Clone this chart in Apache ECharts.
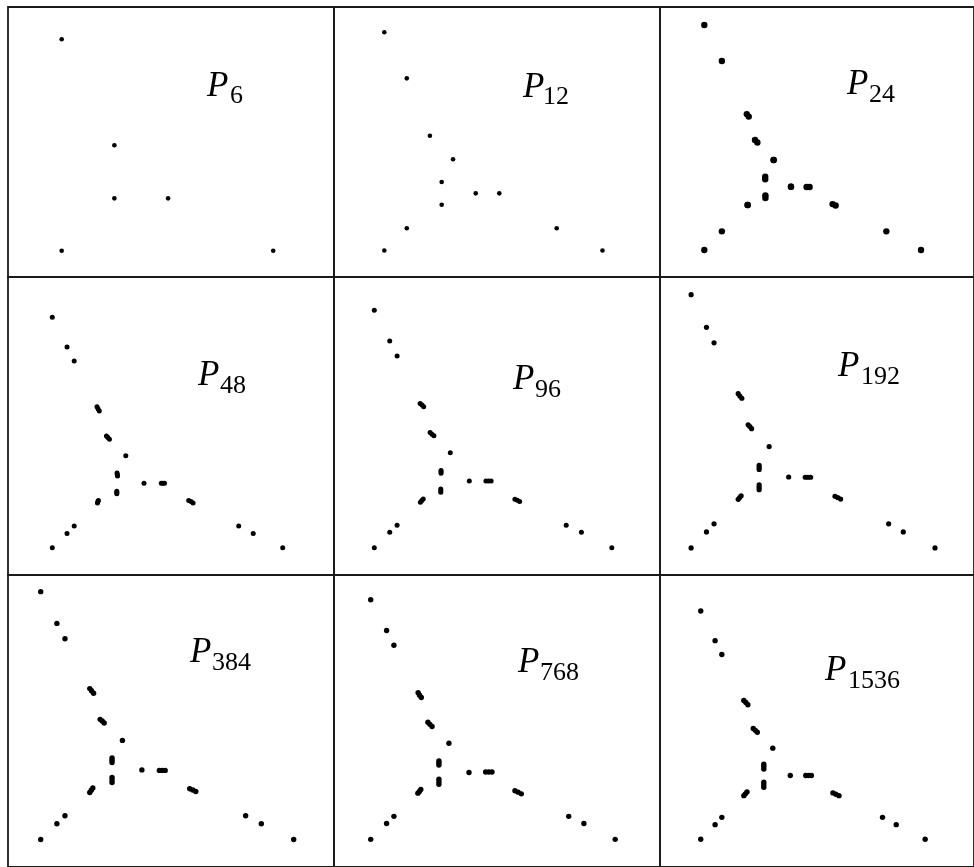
<!DOCTYPE html>
<html>
<head>
<meta charset="utf-8">
<script src="https://cdn.jsdelivr.net/npm/echarts@6/dist/echarts.min.js"></script>
<style>
  html, body { margin: 0; padding: 0; background: #fff; }
  #chart { width: 974px; height: 867px; }
</style>
</head>
<body>
<div id="chart"></div>
<script>
// Point sets P_n, each in unit-square coordinates (u to the right, v downward).
const subscripts = ['6', '12', '24', '48', '96', '192', '384', '768', '1536'];

const p6 = [
  [0, 0], [0.249, 0.501], [0.249, 0.752], [0.503, 0.752], [0, 1], [1, 1]
];

const p12 = [
  [0, 0], [0.103, 0.211], [0.209, 0.474], [0.315, 0.582],
  [0, 1], [0.103, 0.898], [0.263, 0.79], [0.263, 0.686],
  [1, 1], [0.79, 0.898], [0.527, 0.738], [0.419, 0.738]
];

const p24 = [
  [0, 0], [0.081, 0.16], [0.196, 0.396], [0.205, 0.407], [0.234, 0.511], [0.245, 0.522], [0.32, 0.6], [0.32, 0.6],
  [0, 1], [0.081, 0.917], [0.2, 0.8], [0.2, 0.8], [0.282, 0.757], [0.282, 0.769], [0.281, 0.674], [0.281, 0.686],
  [1, 1], [0.84, 0.917], [0.592, 0.796], [0.606, 0.802], [0.472, 0.72], [0.486, 0.72], [0.4, 0.719], [0.4, 0.719]
];

const p48 = [
  [0, 0], [0.064, 0.129], [0.095, 0.19], [0.194, 0.388], [0.199, 0.398], [0.204, 0.407],
  [0.235, 0.515], [0.241, 0.522], [0.248, 0.529], [0.319, 0.601],
  [0, 1], [0.064, 0.938], [0.095, 0.906], [0.196, 0.806], [0.198, 0.8], [0.2, 0.795],
  [0.28, 0.755], [0.28, 0.76], [0.28, 0.766], [0.281, 0.676], [0.282, 0.682], [0.283, 0.689],
  [1, 1], [0.872, 0.938], [0.809, 0.906], [0.592, 0.795], [0.602, 0.8], [0.611, 0.806],
  [0.473, 0.72], [0.48, 0.72], [0.487, 0.72], [0.398, 0.72]
];

const p96 = [
  [0, 0], [0.065, 0.129], [0.096, 0.192], [0.193, 0.392], [0.201, 0.399], [0.208, 0.406],
  [0.235, 0.515], [0.243, 0.522], [0.251, 0.528], [0.32, 0.6],
  [0, 1], [0.065, 0.935], [0.096, 0.905], [0.194, 0.808], [0.2, 0.801], [0.206, 0.794],
  [0.28, 0.752], [0.28, 0.759], [0.28, 0.766], [0.281, 0.674], [0.281, 0.68], [0.281, 0.686],
  [1, 1], [0.872, 0.935], [0.808, 0.905], [0.592, 0.796], [0.602, 0.8], [0.612, 0.805],
  [0.47, 0.719], [0.481, 0.719], [0.492, 0.719], [0.4, 0.719]
];

const p192 = [
  [0, 0], [0.063, 0.129], [0.094, 0.19], [0.193, 0.391], [0.2, 0.4], [0.208, 0.409],
  [0.234, 0.514], [0.241, 0.521], [0.248, 0.529], [0.32, 0.6],
  [0, 1], [0.063, 0.937], [0.094, 0.905], [0.193, 0.808], [0.199, 0.801], [0.205, 0.794],
  [0.279, 0.751], [0.279, 0.76], [0.279, 0.77], [0.279, 0.674], [0.279, 0.682], [0.279, 0.69],
  [1, 1], [0.87, 0.937], [0.81, 0.905], [0.59, 0.796], [0.601, 0.801], [0.613, 0.807],
  [0.468, 0.721], [0.479, 0.721], [0.49, 0.721], [0.4, 0.72]
];

const p384 = [
  [0, 0], [0.064, 0.128], [0.096, 0.19], [0.194, 0.391], [0.201, 0.4], [0.209, 0.41],
  [0.235, 0.515], [0.243, 0.522], [0.251, 0.53], [0.323, 0.6],
  [0, 1], [0.064, 0.936], [0.096, 0.904], [0.194, 0.81], [0.2, 0.801], [0.206, 0.792],
  [0.282, 0.749], [0.282, 0.76], [0.282, 0.77], [0.282, 0.671], [0.282, 0.68], [0.282, 0.689],
  [1, 1], [0.872, 0.936], [0.81, 0.904], [0.589, 0.795], [0.601, 0.8], [0.613, 0.806],
  [0.469, 0.721], [0.48, 0.721], [0.492, 0.721], [0.4, 0.719]
];

const p768 = [
  [0, 0], [0.065, 0.128], [0.095, 0.19], [0.194, 0.388], [0.2, 0.398], [0.207, 0.408],
  [0.234, 0.511], [0.242, 0.52], [0.251, 0.529], [0.32, 0.599],
  [0, 1], [0.065, 0.934], [0.095, 0.904], [0.193, 0.807], [0.199, 0.8], [0.205, 0.792],
  [0.279, 0.749], [0.279, 0.76], [0.279, 0.77], [0.279, 0.673], [0.279, 0.681], [0.279, 0.69],
  [1, 1], [0.872, 0.934], [0.81, 0.904], [0.59, 0.797], [0.603, 0.803], [0.616, 0.81],
  [0.47, 0.719], [0.483, 0.719], [0.496, 0.719], [0.402, 0.721]
];

const p1536 = [
  [0, 0], [0.064, 0.13], [0.094, 0.191], [0.192, 0.392], [0.201, 0.401], [0.21, 0.411],
  [0.234, 0.515], [0.243, 0.523], [0.252, 0.531], [0.321, 0.601],
  [0, 1], [0.064, 0.936], [0.094, 0.904], [0.192, 0.809], [0.199, 0.801], [0.206, 0.793],
  [0.281, 0.75], [0.281, 0.761], [0.281, 0.772], [0.281, 0.671], [0.281, 0.681], [0.281, 0.692],
  [1, 1], [0.871, 0.936], [0.81, 0.904], [0.589, 0.797], [0.602, 0.803], [0.616, 0.809],
  [0.468, 0.721], [0.48, 0.721], [0.493, 0.721], [0.399, 0.721]
];

const pointSets = [p6, p12, p24, p48, p96, p192, p384, p768, p1536];

// ---- layout ----
const colLeft = [8, 334, 660];
const colWidth = 326;
const rowTop = [7, 277, 575];
const rowHeight = [270, 298, 298];

// where each unit square sits on the page: [left, top, side]
const squares = [
  [61.7, 39.3, 211.5], [384.3, 32.3, 218.2], [706, 25, 225],
  [52.3, 317.3, 230.4], [374.3, 310.3, 237.5], [692.3, 294.7, 253.2],
  [40.7, 592, 253], [370.7, 600.3, 244.5], [702.3, 611.7, 233]
];
const dotSize = [4.6, 4.6, 6.4, 5, 5, 5.2, 5.4, 5.4, 5.4];

// label anchors: [P left, P centre y, subscript left, subscript centre y]
const labelPos = [
  [207, 87, 230, 96.5], [523, 87.5, 543, 97.5], [847, 85, 869, 95],
  [198, 376, 220, 386], [513, 380, 535, 390], [838, 367, 861, 377],
  [190, 653, 212, 663], [518, 663, 540, 673], [825, 671, 848, 681]
];

const grids = [], xAxes = [], yAxes = [], series = [], graphics = [];

pointSets.forEach((pts, i) => {
  const r = Math.floor(i / 3), c = i % 3;
  const left = colLeft[c], top = rowTop[r], w = colWidth, h = rowHeight[r];
  const [ox, oy, s] = squares[i];
  grids.push({
    left: left, top: top, width: w, height: h,
    show: true, borderColor: '#1a1a1a', borderWidth: 1.8, backgroundColor: 'transparent',
    containLabel: false
  });
  xAxes.push({
    type: 'value', gridIndex: i, show: false,
    min: (left - ox) / s, max: (left + w - ox) / s
  });
  yAxes.push({
    type: 'value', gridIndex: i, show: false, inverse: true,
    min: (top - oy) / s, max: (top + h - oy) / s
  });
  series.push({
    type: 'scatter', xAxisIndex: i, yAxisIndex: i,
    data: pts, symbol: 'circle', symbolSize: dotSize[i],
    itemStyle: { color: '#000', opacity: 1 }, silent: true, animation: false
  });
  const [px, py, sx, sy] = labelPos[i];
  graphics.push({
    type: 'text', x: px, y: py, silent: true,
    style: {
      text: 'P', font: 'italic 35px "Liberation Serif"', fill: '#000',
      textAlign: 'left', textVerticalAlign: 'middle', align: 'left', verticalAlign: 'middle'
    }
  });
  graphics.push({
    type: 'text', x: sx, y: sy, silent: true,
    style: {
      text: subscripts[i], font: '26px "Liberation Serif"', fill: '#000',
      textAlign: 'left', textVerticalAlign: 'middle', align: 'left', verticalAlign: 'middle'
    }
  });
});

const chart = echarts.init(document.getElementById('chart'), null, { renderer: 'canvas' });
chart.setOption({
  backgroundColor: '#fff',
  animation: false,
  grid: grids,
  xAxis: xAxes,
  yAxis: yAxes,
  series: series,
  graphic: { elements: graphics }
});
</script>
</body>
</html>
